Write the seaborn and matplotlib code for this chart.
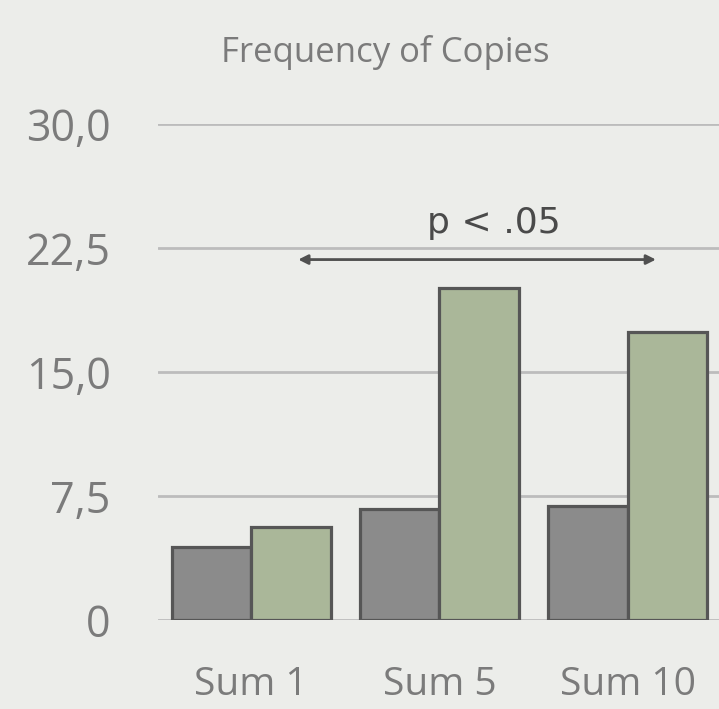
import matplotlib
matplotlib.use("Agg")
import matplotlib.pyplot as plt
import seaborn as sns
import pandas as pd

categories = ["Sum 1", "Sum 5", "Sum 10"]
series_names = ["A", "B"]
series_a = [4.4, 6.7, 6.9]
series_b = [5.6, 20.1, 17.4]
yticks = [0, 7.5, 15.0, 22.5, 30.0]
ytick_labels = ["0", "7,5", "15,0", "22,5", "30,0"]
title = "Frequency of Copies"
annotation = "p < .05"
arrow_span = [0.25, 2.15]
arrow_y = 21.8

df = pd.DataFrame({
    "cat": categories * 2,
    "series": [series_names[0]] * 3 + [series_names[1]] * 3,
    "value": series_a + series_b,
})

sns.set_theme(style="white")
plt.rcParams["font.family"] = ["Open Sans", "DejaVu Sans"]

bg = "#ecedea"
fig = plt.figure(figsize=(7.19, 7.09), dpi=100, facecolor=bg)
ax = fig.add_axes([158 / 719, 1 - 620 / 709, 1 - 158 / 719, (620 - 124) / 709])
ax.set_facecolor(bg)

sns.barplot(data=df, x="cat", y="value", hue="series", order=categories,
            palette=["#8b8b8b", "#aabc94"], width=0.846, gap=0,
            edgecolor="#565656", linewidth=2.3, legend=False, ax=ax, zorder=3)

ax.set_ylim(0, 30)
ax.set_xlim(-0.495, 2.485)
ax.set_yticks(yticks)
ax.set_yticklabels(ytick_labels)
for y in yticks:
    ax.axhline(y, color="#bcbcbc", lw=2, zorder=1)
for s in ax.spines.values():
    s.set_visible(False)
ax.tick_params(axis="y", length=0, pad=34, labelsize=31, labelcolor="#7b7b7b")
ax.tick_params(axis="x", length=0, pad=33, labelsize=28, labelcolor="#7b7b7b")
ax.set_xlabel("")
ax.set_ylabel("")

ax.annotate("", xy=(arrow_span[0], arrow_y), xytext=(arrow_span[1], arrow_y),
            arrowprops=dict(arrowstyle="<|-|>", color="#505050", lw=2,
                            mutation_scale=14, shrinkA=0, shrinkB=0), zorder=4)
ax.text(1.29, 24.0, annotation, ha="center", va="center", fontsize=26,
        color="#4a4a4a", family=["DejaVu Sans"], zorder=4)

fig.text(385 / 719, 1 - 52 / 709, title, ha="center", va="center",
         fontsize=25, color="#7b7b7b")

fig.savefig("out.png", dpi=100, facecolor=bg)
